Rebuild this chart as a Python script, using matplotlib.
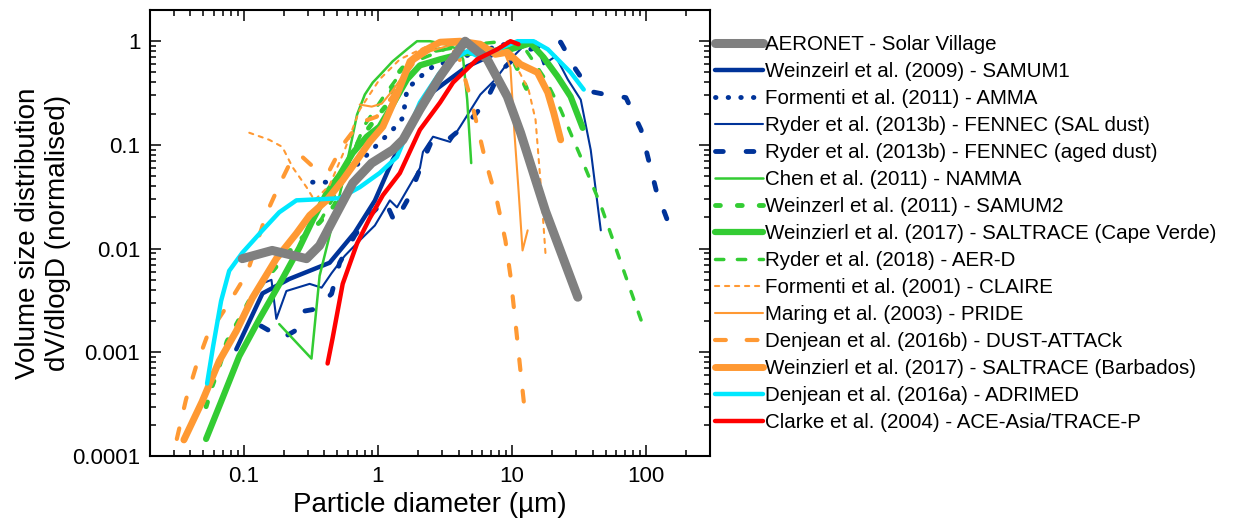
import matplotlib
matplotlib.use("Agg")
import matplotlib.pyplot as plt

plt.rcParams['font.family'] = ['Liberation Sans', 'DejaVu Sans']

# colours
grey = '#808080'
blue = '#003399'
green = '#33cc33'
orange = '#ff9933'
cyan = '#00e8ff'
red = '#ff0000'

# data (diameter in um, normalised dV/dlogD)
aeronet_x = [0.0975, 0.163, 0.294, 0.368, 0.493, 0.65, 0.90, 1.29, 1.54, 2.06, 2.91, 4.48, 6.55, 9.25, 11.6, 17.8, 31]
aeronet_y = [0.0080, 0.0096, 0.0080, 0.0107, 0.0219, 0.0428, 0.0668, 0.0894, 0.112, 0.219, 0.457, 1.0, 0.668, 0.292, 0.131, 0.023, 0.0034]

samum1_x = [0.088, 0.138, 0.219, 0.437, 0.673, 0.95, 1.29, 1.89, 2.58, 4.64, 8.2, 12.0]
samum1_y = [0.00107, 0.0037, 0.0051, 0.0073, 0.0143, 0.029, 0.0715, 0.175, 0.327, 0.572, 0.80, 0.89]

amma_x = [0.326, 0.437, 0.617, 0.90, 1.29, 1.54, 1.65, 1.96, 2.58, 3.77, 5.8, 8.9]
amma_y = [0.0437, 0.0437, 0.0547, 0.089, 0.14, 0.183, 0.342, 0.428, 0.572, 0.67, 0.80, 0.935]

sal_x = [0.135, 0.161, 0.175, 0.208, 0.31, 0.381, 0.452, 0.566, 0.733, 0.95, 1.23, 1.39, 1.65, 2.06,
         2.17, 2.58, 3.46, 4.11, 5.81, 7.52, 9.75, 12.6, 15.0, 17.2, 21.2, 26.1, 32.6, 38.7, 46.0]
sal_y = [0.00457, 0.0050, 0.0021, 0.0039, 0.00457, 0.0042, 0.0058, 0.0085, 0.012, 0.0167, 0.0292, 0.025,
         0.0366, 0.0598, 0.0855, 0.12, 0.107, 0.15, 0.306, 0.428, 0.669, 0.935, 1.0, 0.598, 0.715, 0.428,
         0.273, 0.0894, 0.015]

aged_x = [0.135, 0.194, 0.239, 0.284, 0.337, 0.452, 0.519, 0.673, 0.87, 1.13, 1.34, 1.74, 2.14, 2.54,
          3.46, 4.64, 6.33, 8.2, 10.6, 13.8, 17.8, 23.1, 29.9, 38.7, 50.1, 70.8, 91.8, 119, 154]
aged_y = [0.00179, 0.00137, 0.0016, 0.0025, 0.0026, 0.00366, 0.0073, 0.0134, 0.0209, 0.0292, 0.0179,
          0.0327, 0.0668, 0.112, 0.117, 0.16, 0.256, 0.511, 0.70, 0.836, 0.935, 0.98, 0.535, 0.327,
          0.306, 0.286, 0.14, 0.0366, 0.015]

namma_x = [0.184, 0.32, 0.368, 0.437, 0.519, 0.617, 0.70, 0.80, 0.917, 1.03, 1.29, 1.65, 1.96, 2.45,
           3.18, 3.97, 4.33, 4.64, 4.97]
namma_y = [0.00187, 0.00087, 0.00547, 0.0134, 0.0327, 0.0894, 0.196, 0.306, 0.40, 0.468, 0.64, 0.836,
           1.0, 1.0, 0.935, 0.836, 0.669, 0.273, 0.0668]

samum2_x = [0.0524, 0.058, 0.0655, 0.0752, 0.0894, 0.11, 0.143, 0.184, 0.26, 0.368, 0.476, 0.586,
            0.733, 0.95, 1.17, 1.39, 1.74, 2.45, 3.77, 5.81, 8.2, 10.6, 13.8]
samum2_y = [0.000299, 0.000468, 0.00073, 0.00128, 0.00191, 0.00313, 0.00489, 0.0073, 0.012, 0.0179,
            0.0262, 0.064, 0.112, 0.175, 0.245, 0.478, 0.669, 0.80, 0.875, 0.935, 0.875, 0.598, 0.286]

cv_x = [0.0524, 0.0678, 0.0925, 0.131, 0.194, 0.26, 0.326, 0.415, 0.519, 0.65, 0.827, 1.03, 1.29,
        1.65, 2.06, 2.91, 4.33, 6.9, 9.75, 13.8, 17.2, 21.9, 27.4, 33.7]
cv_y = [0.000146, 0.000334, 0.000915, 0.0021, 0.0051, 0.0102, 0.0187, 0.0342, 0.0512, 0.0836, 0.12,
        0.15, 0.245, 0.428, 0.585, 0.669, 0.764, 0.80, 0.836, 0.956, 0.70, 0.457, 0.292, 0.146]

aerd_x = [0.368, 0.476, 0.617, 0.80, 1.13, 1.46, 2.06, 3.18, 5.33, 8.9, 12.6, 17.8, 23.1, 32.6, 46, 65, 96.6]
aerd_y = [0.0179, 0.0327, 0.0715, 0.156, 0.306, 0.478, 0.669, 0.836, 0.935, 1.0, 0.836, 0.428, 0.219,
          0.0765, 0.0262, 0.0073, 0.0017]

claire_x = [0.11, 0.155, 0.194, 0.231, 0.294, 0.337, 0.437, 0.566, 0.733, 1.03, 1.46, 2.25, 3.77,
            5.81, 8.2, 10.6, 13.3, 15.0, 16.3, 17.8]
claire_y = [0.131, 0.112, 0.0957, 0.0611, 0.0391, 0.0292, 0.0409, 0.0894, 0.219, 0.428, 0.669, 0.875,
            1.0, 0.935, 0.80, 0.598, 0.342, 0.175, 0.0457, 0.0089]

pride_x = [0.733, 0.90, 1.07, 1.27, 1.51, 1.89, 2.45, 3.46, 4.89, 6.9, 8.9, 9.75, 10.4, 11.2, 12.0, 13.1]
pride_y = [0.245, 0.234, 0.25, 0.327, 0.447, 0.64, 0.80, 0.915, 0.956, 0.836, 0.748, 0.56, 0.14,
           0.0366, 0.0096, 0.015]

attack_x = [0.0317, 0.0371, 0.0441, 0.0533, 0.0752, 0.106, 0.148, 0.184, 0.231, 0.274, 0.337, 0.437,
            0.547, 0.733, 0.98, 1.27, 1.59, 2.06, 2.91, 3.97, 5.06, 6.33, 7.78, 8.94, 9.75, 10.6,
            11.6, 12.6]
attack_y = [0.000146, 0.00035, 0.00073, 0.00143, 0.0028, 0.0058, 0.0219, 0.0409, 0.0748, 0.0764,
            0.0598, 0.0572, 0.1, 0.164, 0.187, 0.286, 0.478, 0.748, 0.978, 0.748, 0.245, 0.0715,
            0.028, 0.012, 0.00547, 0.002, 0.00065, 0.00024]

barb_x = [0.0358, 0.0489, 0.0655, 0.088, 0.116, 0.175, 0.247, 0.31, 0.415, 0.547, 0.70, 0.87, 1.09,
          1.39, 1.74, 2.17, 2.91, 4.11, 5.81, 7.52, 9.24, 11.6, 15.5, 18.5, 20.5, 23.1]
barb_y = [0.000143, 0.000334, 0.00082, 0.0016, 0.00334, 0.008, 0.014, 0.0209, 0.0292, 0.0457, 0.0715,
          0.107, 0.15, 0.306, 0.64, 0.80, 0.978, 1.0, 0.935, 0.748, 0.782, 0.598, 0.5, 0.32, 0.204, 0.112]

adrimed_x = [0.0533, 0.0591, 0.0678, 0.0779, 0.0975, 0.138, 0.184, 0.247, 0.519, 0.733, 1.03, 1.39,
             2.06, 2.91, 3.64, 4.64, 5.81, 7.78, 11.0, 14.5, 18.5, 23.1, 27.4, 34.3]
adrimed_y = [0.0005, 0.00114, 0.00313, 0.0061, 0.0091, 0.015, 0.0224, 0.0292, 0.0306, 0.0391, 0.0535,
             0.0765, 0.256, 0.5, 0.669, 0.80, 0.70, 0.836, 1.0, 1.0, 0.836, 0.625, 0.5, 0.342]

clarke_x = [0.422, 0.46, 0.547, 0.70, 0.87, 1.09, 1.46, 2.06, 2.91, 3.64, 5.5, 7.78, 9.75, 11.2]
clarke_y = [0.00078, 0.00137, 0.00457, 0.0112, 0.0196, 0.0327, 0.0535, 0.14, 0.256, 0.40, 0.669,
            0.836, 1.0, 0.935]

labels = ["AERONET - Solar Village",
          "Weinzeirl et al. (2009) - SAMUM1",
          "Formenti et al. (2011) - AMMA",
          "Ryder et al. (2013b) - FENNEC (SAL dust)",
          "Ryder et al. (2013b) - FENNEC (aged dust)",
          "Chen et al. (2011) - NAMMA",
          "Weinzerl et al. (2011) - SAMUM2",
          "Weinzierl et al. (2017) - SALTRACE (Cape Verde)",
          "Ryder et al. (2018) - AER-D",
          "Formenti et al. (2001) - CLAIRE",
          "Maring et al. (2003) - PRIDE",
          "Denjean et al. (2016b) - DUST-ATTACk",
          "Weinzierl et al. (2017) - SALTRACE (Barbados)",
          "Denjean et al. (2016a) - ADRIMED",
          "Clarke et al. (2004) - ACE-Asia/TRACE-P"]

fig = plt.figure(figsize=(12.6, 5.2), dpi=100)
ax = fig.add_axes([150 / 1260, 64 / 520, 560 / 1260, 446 / 520])

common = dict(solid_capstyle='round', dash_capstyle='round', solid_joinstyle='round')
ax.plot(aeronet_x, aeronet_y, color=grey, lw=6.5, zorder=3, label=labels[0], **common)
ax.plot(samum1_x, samum1_y, color=blue, lw=3.2, label=labels[1], **common)
ax.plot(amma_x, amma_y, color=blue, lw=3.5, ls=(0, (0.1, 2.5)), label=labels[2], **common)
ax.plot(sal_x, sal_y, color=blue, lw=1.5, label=labels[3], **common)
ax.plot(aged_x, aged_y, color=blue, lw=3.5, ls=(0, (1.6, 4.7)), label=labels[4], **common)
ax.plot(namma_x, namma_y, color=green, lw=1.8, label=labels[5], **common)
ax.plot(samum2_x, samum2_y, color=green, lw=3.5, ls=(0, (1.0, 3.5)), label=labels[6], **common)
ax.plot(cv_x, cv_y, color=green, lw=4.5, label=labels[7], **common)
ax.plot(aerd_x, aerd_y, color=green, lw=2.5, ls=(0, (2.4, 3.9)), label=labels[8], **common)
ax.plot(claire_x, claire_y, color=orange, lw=1.5, ls=(0, (2.0, 2.8)), label=labels[9], **common)
ax.plot(pride_x, pride_y, color=orange, lw=1.5, label=labels[10], **common)
ax.plot(attack_x, attack_y, color=orange, lw=3.0, ls=(0, (2.6, 5.0)), label=labels[11], **common)
ax.plot(barb_x, barb_y, color=orange, lw=5.0, label=labels[12], **common)
ax.plot(adrimed_x, adrimed_y, color=cyan, lw=3.2, label=labels[13], **common)
ax.plot(clarke_x, clarke_y, color=red, lw=3.2, zorder=4, label=labels[14], **common)

ax.set_xscale('log')
ax.set_yscale('log')
ax.set_xlim(0.02, 300)
ax.set_ylim(1e-4, 2)
ax.set_xticks([0.1, 1, 10, 100])
ax.set_xticklabels(["0.1", "1", "10", "100"])
ax.set_yticks([1e-4, 1e-3, 1e-2, 0.1, 1])
ax.set_yticklabels(["0.0001", "0.001", "0.01", "0.1", "1"])
ax.tick_params(which='both', direction='in', top=True, right=True, width=1.1, labelsize=16)
ax.tick_params(which='major', length=8, pad=7)
ax.tick_params(which='minor', length=4.5)
for s in ax.spines.values():
    s.set_linewidth(1.5)

ax.set_xlabel("Particle diameter (µm)", fontsize=20, labelpad=4)
ax.set_ylabel("Volume size distribution\ndV/dlogD (normalised)", fontsize=20, labelpad=1)

ax.legend(loc='upper left', bbox_to_anchor=(715 / 1260, 1 - 35 / 520), bbox_transform=fig.transFigure,
          frameon=False, fontsize=14.8, handlelength=2.33, handletextpad=0.1, borderpad=0,
          borderaxespad=0, labelspacing=0.39)

plt.savefig("out.png", dpi=100)
